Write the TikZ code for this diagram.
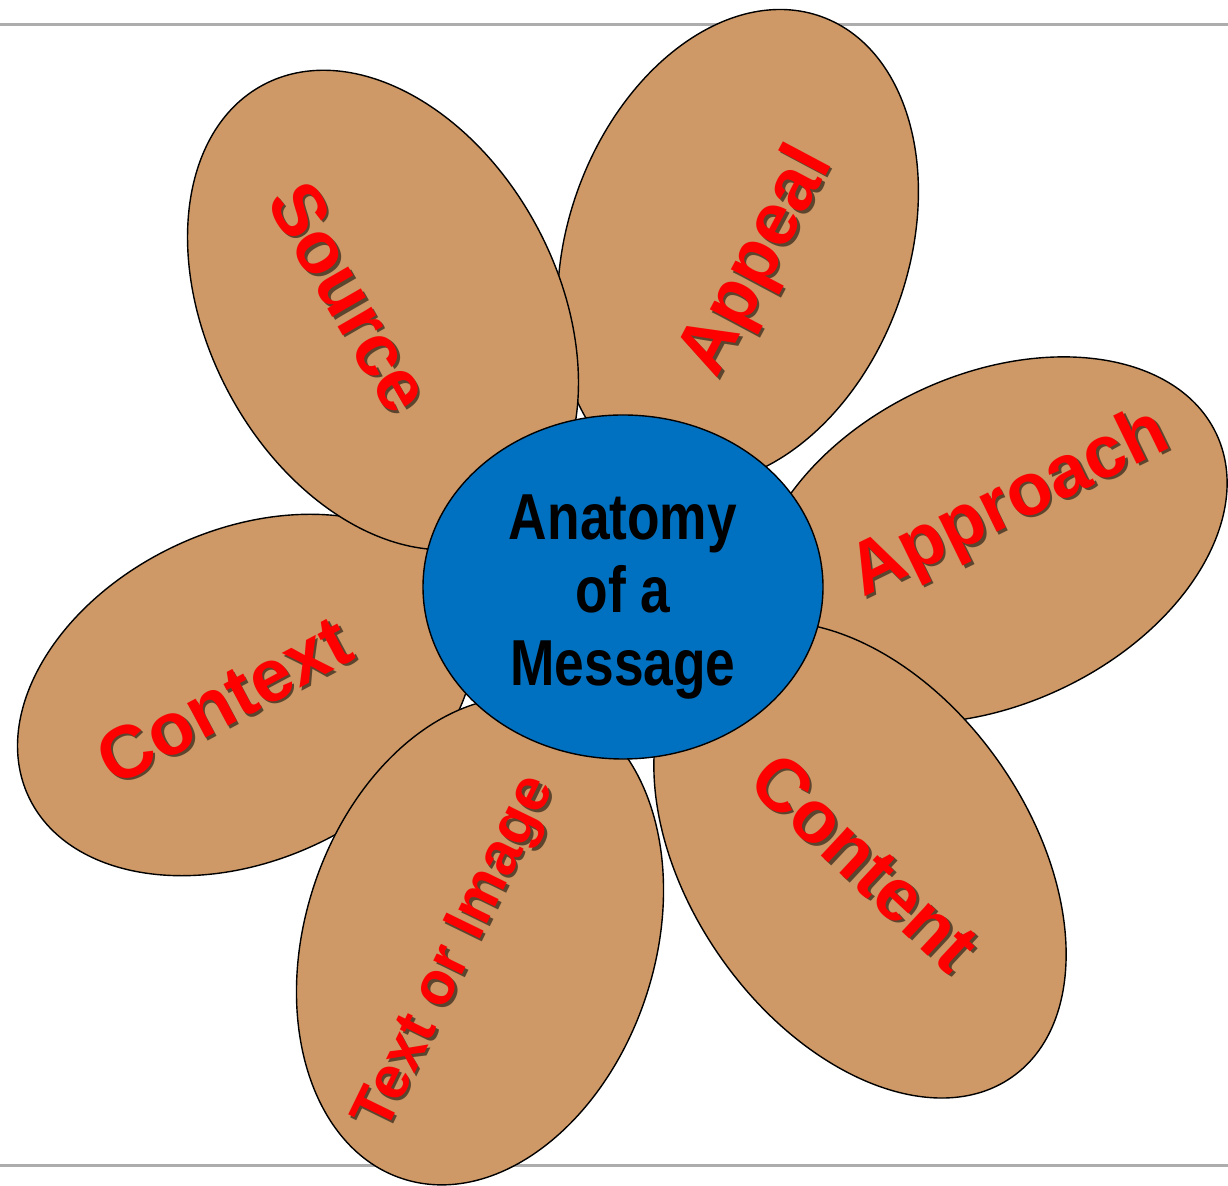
\documentclass[tikz,border=0pt]{standalone}
\usepackage{fontspec}
\newfontfamily\petalfont{Liberation Sans Bold}
\newfontfamily\hubfont{Liberation Sans Bold}[FakeStretch=0.82]
\usetikzlibrary{shapes.geometric}
\definecolor{petalbrown}{RGB}{206,153,102}
\definecolor{hubblue}{RGB}{0,112,192}

\begin{document}
\begin{tikzpicture}[x=0.5pt, y=-0.5pt,
		petal/.style={draw=black, line width=0.7pt, fill=petalbrown},
		hub/.style={ellipse, draw=black, line width=0.7pt, fill=hubblue, minimum width=200pt, minimum height=172pt, inner sep=0pt, align=center, font=\hubfont\fontsize{32.5}{36.5}\selectfont},
		word/.style={text=red, inner sep=0pt, font=\petalfont\fontsize{37}{40}\selectfont},
		wordshadow/.style={word, text=black, opacity=0.55},
		rule/.style={draw=black!32, line width=1.5pt}
		]
		\useasboundingbox (0,0) rectangle (1228,1186);
		
		% grey rules behind the flower
		\coordinate (topL) at (0,25);
		\coordinate (topR) at (1228,25);
		\coordinate (botL) at (0,1166);
		\coordinate (botR) at (1228,1166);
		\draw[rule] (topL) -- (topR);
		\draw[rule] (botL) -- (botR);
		
		% petals, back to front
		\foreach \cx/\cy/\ang/\ra/\rb in {738/247/70/245/170, 990/540/25/250/165, 860/860/-55/265/170, 246/695/25/240/165, 480/941/72/250/175, 383/310/118/255/175}
		\draw[petal, rotate around={\ang:(\cx,\cy)}] (\cx,\cy) ellipse [x radius=\ra, y radius=\rb];
		
		% centre
		\node[hub] (hub) at (623,587) {\rule{0pt}{32pt}Anatomy\\of a\\Message};
		
		% petal labels
		\foreach \name/\x/\y/\rot/\txt in {source/350/297/-60/Source, appeal/758/262/62/Appeal, approach/1010/505/26/Approach, content/865/862/-43/Content, context/224/700/28/Context} {
			\node[wordshadow, rotate=\rot] (\name-shadow) at (\x+2.5,\y+2.5) {\txt};
			\node[word, rotate=\rot] (\name) at (\x,\y) {\txt};
		}
		\node[wordshadow, rotate=64, font=\petalfont\fontsize{30}{33}\selectfont] (textimage-shadow) at (459.5,956.5) {Text or Image};
		\node[word, rotate=64, font=\petalfont\fontsize{30}{33}\selectfont] (textimage) at (457,954) {Text or Image};
		
\end{tikzpicture}
\end{document}
